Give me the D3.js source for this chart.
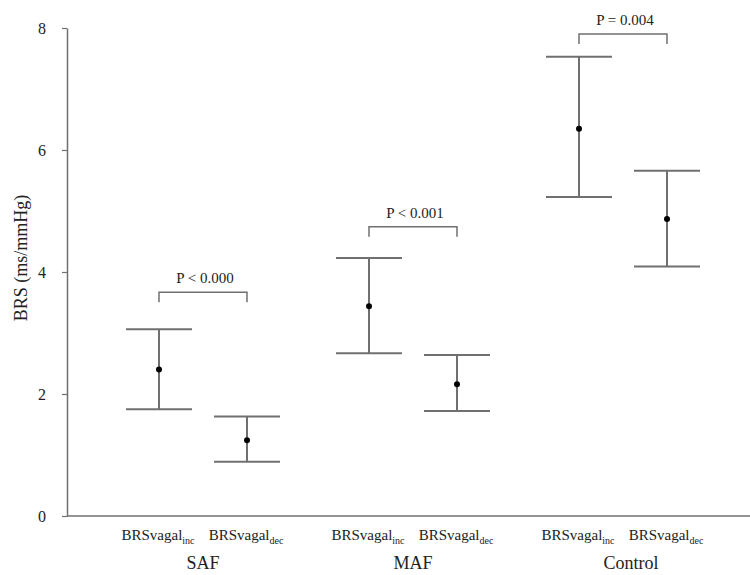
<!DOCTYPE html>
<html>
<head>
<meta charset="utf-8">
<script src="https://cdn.jsdelivr.net/npm/d3@7"></script>
<style>
  body { margin: 0; background: #fff; }
  svg { display: block; font-family: "Liberation Serif", "Times New Roman", serif; }
</style>
</head>
<body>
<div id="chart"></div>
<script>
// groups and series
const groups = ["SAF", "MAF", "Control"];
const series = ["inc", "dec"];

// BRSvagal_inc: mean and error bar ends
const meanInc = [2.40, 3.44, 6.35];
const upperInc = [3.06, 4.23, 7.53];
const lowerInc = [1.75, 2.67, 5.23];

// BRSvagal_dec
const meanDec = [1.24, 2.16, 4.87];
const upperDec = [1.63, 2.64, 5.66];
const lowerDec = [0.89, 1.72, 4.09];

// significance brackets
const pLabels = ["P < 0.000", "P < 0.001", "P = 0.004"];
const bracketLevel = [3.67, 4.74, 7.90];

const yTicks = [0, 2, 4, 6, 8];

const width = 750, height = 575;
const margin = { top: 28, right: 0, bottom: 59, left: 67 };

const svg = d3.select("#chart").append("svg")
  .attr("width", width)
  .attr("height", height);

const y = d3.scaleLinear().domain([0, 8]).range([height - margin.bottom, margin.top]);
const x0 = d3.scaleBand().domain(groups).range([98, 728]);
const half = 44;
const x1 = d3.scalePoint().domain(series)
  .range([x0.bandwidth() / 2 - half, x0.bandwidth() / 2 + half]);

const lineColor = "#707070";

// build rows from the arrays
const rows = [];
groups.forEach((g, i) => {
  rows.push({ group: g, s: "inc", mean: meanInc[i], hi: upperInc[i], lo: lowerInc[i] });
  rows.push({ group: g, s: "dec", mean: meanDec[i], hi: upperDec[i], lo: lowerDec[i] });
});
const xPos = d => x0(d.group) + x1(d.s);

// y axis
const yAxis = svg.append("g")
  .attr("transform", `translate(${margin.left},0)`)
  .call(d3.axisLeft(y).tickValues(yTicks).tickSize(5).tickPadding(16).tickSizeOuter(0));
yAxis.select(".domain").attr("stroke", lineColor).attr("stroke-width", 1.5);
yAxis.selectAll(".tick line").attr("stroke", lineColor).attr("stroke-width", 1.2);
yAxis.selectAll(".tick text")
  .attr("font-family", "Liberation Serif")
  .attr("font-size", 16)
  .attr("fill", "#222");

// x axis line
svg.append("line")
  .attr("x1", margin.left).attr("x2", width)
  .attr("y1", y(0)).attr("y2", y(0))
  .attr("stroke", lineColor).attr("stroke-width", 1.5);

// y title
svg.append("text")
  .attr("transform", `translate(27,${y(4) - 14}) rotate(-90)`)
  .attr("text-anchor", "middle")
  .attr("font-size", 18)
  .attr("fill", "#222")
  .text("BRS (ms/mmHg)");

// error bars
const bars = svg.append("g").selectAll("g").data(rows).enter().append("g");
bars.append("line")
  .attr("x1", xPos).attr("x2", xPos)
  .attr("y1", d => y(d.hi)).attr("y2", d => y(d.lo))
  .attr("stroke", lineColor).attr("stroke-width", 2);
["hi", "lo"].forEach(k => {
  bars.append("line")
    .attr("x1", d => xPos(d) - 33).attr("x2", d => xPos(d) + 33)
    .attr("y1", d => y(d[k])).attr("y2", d => y(d[k]))
    .attr("stroke", lineColor).attr("stroke-width", 2);
});
bars.append("circle")
  .attr("cx", xPos).attr("cy", d => y(d.mean))
  .attr("r", 3).attr("fill", "#000");

// brackets
groups.forEach((g, i) => {
  const xa = x0(g) + x1("inc"), xb = x0(g) + x1("dec");
  const yb = y(bracketLevel[i]);
  svg.append("path")
    .attr("d", `M${xa},${yb + 10}V${yb}H${xb}V${yb + 10}`)
    .attr("fill", "none").attr("stroke", lineColor).attr("stroke-width", 1.5);
  svg.append("text")
    .attr("x", (xa + xb) / 2 + 2).attr("y", yb - 9)
    .attr("text-anchor", "middle")
    .attr("font-size", 15)
    .attr("fill", "#222")
    .text(pLabels[i]);
});

// x labels
rows.forEach(d => {
  const t = svg.append("text")
    .attr("x", xPos(d) - 1).attr("y", 540)
    .attr("text-anchor", "middle")
    .attr("font-size", 15)
    .attr("fill", "#222");
  t.append("tspan").text("BRSvagal");
  t.append("tspan").attr("font-size", 10).attr("dy", 4).text(d.s);
});
groups.forEach(g => {
  svg.append("text")
    .attr("x", x0(g) + x0.bandwidth() / 2 + (g === "Control" ? 8 : 0))
    .attr("y", 569)
    .attr("text-anchor", "middle")
    .attr("font-size", 18)
    .attr("fill", "#222")
    .text(g);
});
</script>
</body>
</html>
